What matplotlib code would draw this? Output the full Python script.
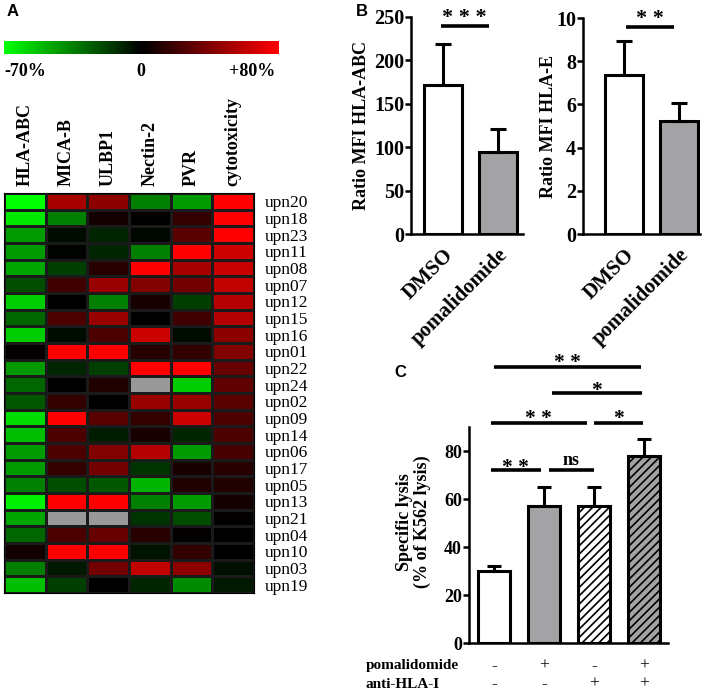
import numpy as np
import matplotlib
matplotlib.use("Agg")
import matplotlib.pyplot as plt
from matplotlib.colors import LinearSegmentedColormap, TwoSlopeNorm

plt.rcParams['font.family'] = ['Liberation Serif', 'DejaVu Serif']
plt.rcParams['font.weight'] = 'bold'
plt.rcParams['axes.labelweight'] = 'bold'
plt.rcParams['hatch.linewidth'] = 1.2

# ---- panel A data: % change vs DMSO (NaN = not measured)
markers = ['HLA-ABC', 'MICA-B', 'ULBP1', 'Nectin-2', 'PVR', 'cytotoxicity']
patients = ['upn20', 'upn18', 'upn23', 'upn11', 'upn08', 'upn07', 'upn12', 'upn15',
            'upn16', 'upn01', 'upn22', 'upn24', 'upn02', 'upn09', 'upn14', 'upn06',
            'upn17', 'upn05', 'upn13', 'upn21', 'upn04', 'upn10', 'upn03', 'upn19']
hla_abc = [-70, -63, -42, -42, -45, -21, -56, -28, -56, 2, -42, -28,
           -24, -60, -52, -42, -42, -35, -66, -45, -28, 6, -35, -52]
mica_b = [52, -35, -3, -1, -17, 20, 0, 24, -3, 80, -10, 0,
          16, 80, 24, 24, 16, -21, 80, np.nan, 24, 80, -7, -17]
ulbp1 = [44, 6, -10, -10, 12, 48, -35, 48, 24, 80, -17, 10,
         0, 28, -8, 40, 36, -24, 80, np.nan, 32, 80, 36, 0]
nectin2 = [-35, 0, -2, -35, 80, 40, 8, 0, 64, 12, 80, np.nan,
           48, 16, 8, 56, -14, -49, -35, -14, 12, -5, 60, -10]
pvr = [-42, 16, 28, 80, 52, 36, -17, 20, -3, 16, 80, -56,
       48, 64, -10, -42, 8, 10, -42, -21, 1, 16, 44, -38]
cytotox = [80, 80, 80, 64, 62, 60, 56, 56, 44, 40, 32, 30,
           28, 24, 24, 22, 12, 10, 6, 1, 0, 0, -4, -7]

# ---- panel B data
b_groups = ['DMSO', 'pomalidomide']
hla_abc_mean = [172, 95]
hla_abc_err = [47, 26]
hla_e_mean = [7.35, 5.22]
hla_e_err = [1.6, 0.86]

# ---- panel C data
c_mean = [30, 57, 57, 78]
c_err = [2, 8, 8, 7]
c_poma = ['-', '+', '-', '+']
c_anti = ['-', '-', '+', '+']

W, H = 708, 693
fig = plt.figure(figsize=(W / 100, H / 100), dpi=100)


def ax_px(x0, y0, x1, y1):
    return fig.add_axes([x0 / W, 1 - y1 / H, (x1 - x0) / W, (y1 - y0) / H])


cmap = LinearSegmentedColormap.from_list('gkr', ['#00ff00', '#000000', '#ff0000'])
cmap.set_bad('#999999')
norm = TwoSlopeNorm(vmin=-70, vcenter=0, vmax=80)

# ---- A: heatmap
data = np.array([hla_abc, mica_b, ulbp1, nectin2, pvr, cytotox], dtype=float).T
axh = ax_px(4, 193, 254, 593)
axh.pcolormesh(np.ma.masked_invalid(data), cmap=cmap, norm=norm,
               edgecolors='#1a1a1a', linewidth=0.8)
axh.set_xlim(0, len(markers))
axh.set_ylim(len(patients), 0)
axh.set_xticks([])
axh.set_yticks(np.arange(len(patients)) + 0.5)
axh.set_yticklabels(patients, fontweight='normal', fontsize=12.5)
axh.yaxis.tick_right()
axh.tick_params(axis='y', length=0, pad=8)
for s in axh.spines.values():
    s.set_linewidth(0.8)
for i, m in enumerate(markers):
    axh.text(i + 0.5, -0.45, m, rotation=90, ha='center', va='bottom',
             fontsize=13, fontweight='bold')

# colour scale
axc = ax_px(4, 41, 279, 54)
axc.imshow(np.linspace(0, 1, 256)[None, :], cmap=cmap, aspect='auto',
           extent=[0, 1, 0, 1])
axc.set_axis_off()
fig.text(4 / W, 1 - 71 / H, '-70%', ha='left', va='center', fontsize=13)
fig.text(141 / W, 1 - 71 / H, '0', ha='center', va='center', fontsize=13)
fig.text(275 / W, 1 - 71 / H, '+80%', ha='right', va='center', fontsize=13)

fig.text(7 / W, 1 - 12 / H, 'A', family='Liberation Sans', fontsize=12,
         fontweight='bold', va='center')
fig.text(356 / W, 1 - 12 / H, 'B', family='Liberation Sans', fontsize=12,
         fontweight='bold', va='center')
fig.text(394 / W, 1 - 373 / H, 'C', family='Liberation Sans', fontsize=12,
         fontweight='bold', va='center')


def style(ax, fs):
    for s in ['top', 'right']:
        ax.spines[s].set_visible(False)
    for s in ['left', 'bottom']:
        ax.spines[s].set_linewidth(1.8)
    ax.tick_params(axis='y', width=1.8, length=4, pad=1, labelsize=fs)
    ax.tick_params(axis='x', length=0)


def sig(ax, x0, x1, y, label, off, fs):
    ax.plot([x0, x1], [y, y], color='black', lw=2.6, clip_on=False,
            solid_capstyle='butt')
    ax.annotate(label, xy=((x0 + x1) / 2, y), xytext=(0, off),
                textcoords='offset points', ha='center', va='baseline',
                fontsize=fs, annotation_clip=False)


# ---- B left
x = np.arange(len(b_groups))
ax1 = ax_px(411, 17, 523, 234)
ax1.bar(x, hla_abc_mean, width=0.69, color=['white', '#a3a3a6'],
        edgecolor='black', linewidth=2.2)
ax1.errorbar(x, hla_abc_mean, yerr=[[0, 0], hla_abc_err], fmt='none',
             ecolor='black', elinewidth=2.2, capsize=6, capthick=2.2)
ax1.set_xlim(-0.58, 1.45)
ax1.set_ylim(0, 250)
ax1.set_yticks([0, 50, 100, 150, 200, 250])
style(ax1, 14.5)
ax1.set_xticks(x)
ax1.set_xticklabels(b_groups, rotation=45, ha='right', rotation_mode='anchor',
                    fontsize=15)
ax1.tick_params(axis='x', pad=8)
ax1.set_ylabel('Ratio MFI HLA-ABC', fontsize=13)
ax1.yaxis.set_label_coords(-0.365, 0.5)
sig(ax1, -0.04, 0.83, 240, '* * *', 2, 16)

# ---- B right
ax2 = ax_px(583, 18, 700, 234)
ax2.bar(x, hla_e_mean, width=0.69, color=['white', '#a3a3a6'],
        edgecolor='black', linewidth=2.2)
ax2.errorbar(x, hla_e_mean, yerr=[[0, 0], hla_e_err], fmt='none',
             ecolor='black', elinewidth=2.2, capsize=6, capthick=2.2)
ax2.set_xlim(-0.745, 1.38)
ax2.set_ylim(0, 10)
ax2.set_yticks([0, 2, 4, 6, 8, 10])
style(ax2, 14.5)
ax2.set_xticks(x)
ax2.set_xticklabels(b_groups, rotation=45, ha='right', rotation_mode='anchor',
                    fontsize=15)
ax2.tick_params(axis='x', pad=8)
ax2.set_ylabel('Ratio MFI HLA-E', fontsize=13)
ax2.yaxis.set_label_coords(-0.22, 0.5)
sig(ax2, 0.04, 0.9, 9.6, '* *', 2, 16)

# ---- C
xc = np.arange(len(c_mean))
ax3 = ax_px(469, 427, 668, 643)
bars = ax3.bar(xc, c_mean, width=0.64, color=['white', '#a3a3a6', 'white', '#a3a3a6'],
               edgecolor='black', linewidth=2.2)
bars[2].set_hatch('////')
bars[3].set_hatch('////')
ax3.errorbar(xc, c_mean, yerr=[[0] * 4, c_err], fmt='none', ecolor='black',
             elinewidth=2.2, capsize=5, capthick=2.2)
ax3.set_xlim(-0.5, 3.48)
ax3.set_ylim(0, 90)
ax3.set_yticks([0, 20, 40, 60, 80])
style(ax3, 13)
ax3.set_xticks([])
ax3.set_ylabel('Specific lysis\n(% of K562 lysis)', fontsize=13,
               linespacing=1.05)
ax3.yaxis.set_label_coords(-0.19, 0.56)

sig(ax3, -0.06, 0.93, 72, '* *', -2, 15.5)
sig(ax3, 1.09, 2.0, 72, 'ns', 3.5, 13)
sig(ax3, -0.06, 1.85, 91.7, '* *', -1, 15.5)
sig(ax3, 2.0, 2.98, 91.7, '*', -1, 15.5)
sig(ax3, 1.15, 2.95, 104, '*', -2, 15.5)
sig(ax3, 0.0, 2.93, 115, '* *', -1, 15.5)

fig.text(366 / W, 1 - 666 / H, 'pomalidomide', ha='left', va='center', fontsize=11)
fig.text(366 / W, 1 - 684 / H, 'anti-HLA-I', ha='left', va='center', fontsize=11)
for i in range(len(c_mean)):
    ax3.text(i, -0.105, c_poma[i], transform=ax3.get_xaxis_transform(),
             ha='center', va='center', fontsize=12.5, fontweight='normal')
    ax3.text(i, -0.19, c_anti[i], transform=ax3.get_xaxis_transform(),
             ha='center', va='center', fontsize=12.5, fontweight='normal')

fig.savefig('out.png', dpi=100)
